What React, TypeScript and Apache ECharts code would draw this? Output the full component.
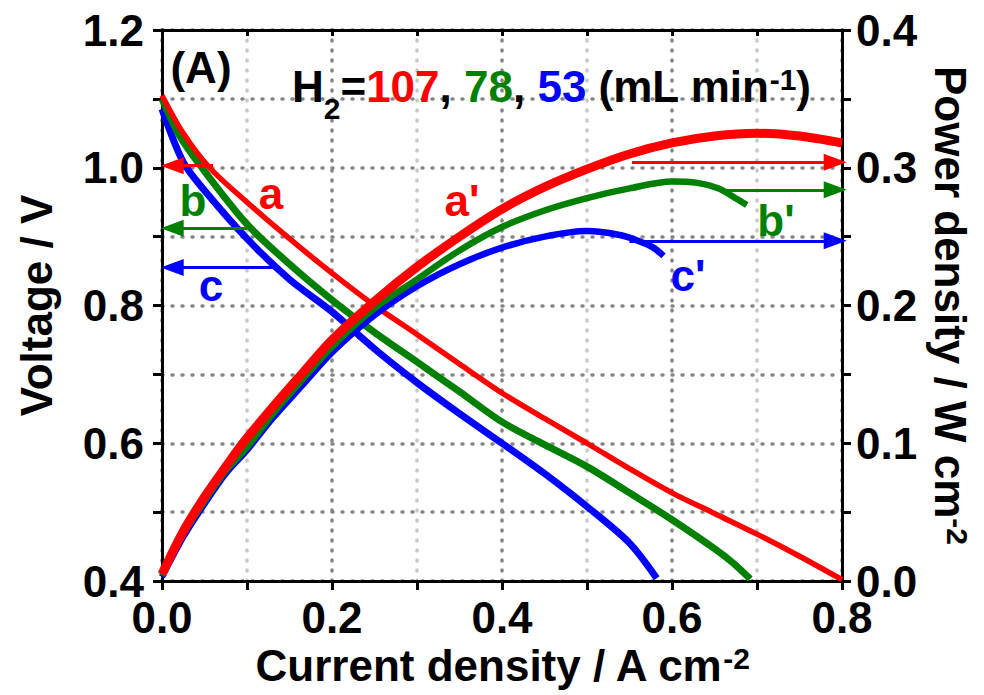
import React, { useEffect, useRef } from "react";
import * as echarts from "echarts";

// ---- data ----
const iRedV = [0, 0.025, 0.056, 0.1, 0.15, 0.2, 0.25, 0.3, 0.35, 0.4, 0.45, 0.5, 0.55, 0.6, 0.65, 0.7, 0.75, 0.8];
const vRed = [1.105, 1.05, 1.0, 0.95, 0.897, 0.847, 0.8, 0.758, 0.715, 0.673, 0.636, 0.6, 0.563, 0.528, 0.498, 0.468, 0.436, 0.402];

const iGreenV = [0, 0.02, 0.047, 0.1, 0.15, 0.2, 0.25, 0.3, 0.35, 0.4, 0.45, 0.5, 0.55, 0.6, 0.65, 0.672, 0.692];
const vGreen = [1.1, 1.048, 1.0, 0.918, 0.86, 0.808, 0.761, 0.718, 0.675, 0.631, 0.598, 0.566, 0.528, 0.489, 0.447, 0.426, 0.403];

const iBlueV = [0, 0.025, 0.05, 0.1, 0.15, 0.2, 0.25, 0.3, 0.35, 0.4, 0.45, 0.5, 0.55, 0.582];
const vBlue = [1.085, 1.008, 0.967, 0.897, 0.838, 0.791, 0.737, 0.688, 0.643, 0.6, 0.556, 0.508, 0.455, 0.404];

const iRedP = [0, 0.025, 0.05, 0.075, 0.095, 0.13, 0.164, 0.2, 0.25, 0.3, 0.35, 0.4, 0.45, 0.5, 0.55, 0.6, 0.65, 0.7, 0.75, 0.8];
const pRed = [0.005, 0.036, 0.061, 0.083, 0.1, 0.126, 0.15, 0.175, 0.203, 0.228, 0.25, 0.27, 0.286, 0.299, 0.31, 0.318, 0.323, 0.325, 0.323, 0.318];

const iGreenP = [0, 0.025, 0.05, 0.075, 0.1, 0.13, 0.165, 0.2, 0.25, 0.3, 0.35, 0.4, 0.45, 0.5, 0.55, 0.6, 0.63, 0.655, 0.672, 0.688];
const pGreen = [0.004, 0.034, 0.058, 0.08, 0.097, 0.121, 0.146, 0.17, 0.198, 0.219, 0.24, 0.257, 0.269, 0.278, 0.285, 0.29, 0.289, 0.285, 0.279, 0.273];

const iBlueP = [0, 0.025, 0.05, 0.075, 0.1, 0.13, 0.165, 0.2, 0.25, 0.3, 0.35, 0.4, 0.45, 0.5, 0.54, 0.56, 0.578, 0.59];
const pBlue = [0.003, 0.032, 0.056, 0.078, 0.095, 0.118, 0.142, 0.166, 0.193, 0.214, 0.23, 0.242, 0.25, 0.254, 0.251, 0.247, 0.242, 0.236];

// arrows: [x start, x end, y]
const arrowLeftRed = [0.06, 0.012, 1.003];
const arrowLeftGreen = [0.1, 0.012, 0.912];
const arrowLeftBlue = [0.135, 0.012, 0.855];
const arrowRightRed = [0.553, 0.792, 0.304];
const arrowRightGreen = [0.657, 0.792, 0.284];
const arrowRightBlue = [0.55, 0.792, 0.247];

const xTicks = [0, 0.2, 0.4, 0.6, 0.8];
const vTicks = [0.4, 0.6, 0.8, 1.0, 1.2];
const pTicks = [0, 0.1, 0.2, 0.3, 0.4];

const RED = "#ff0000";
const GREEN = "#008000";
const BLUE = "#0000ff";
const FONT = "Liberation Sans";

const pairs = (xs: number[], ys: number[]) => xs.map((x, k) => [x, ys[k]]);

const arrow = (a: number[], color: string) => ({
  silent: true,
  symbol: ["none", "triangle"],
  symbolSize: [17, 23],
  label: { show: false },
  emphasis: { disabled: true },
  lineStyle: { color, width: 3, type: "solid" },
  data: [[{ coord: [a[0], a[2]] }, { coord: [a[1], a[2]] }]],
});

const dotted = (color: string) => ({
  show: true,
  lineStyle: { color, width: 3.5, type: [1, 9], cap: "round" },
});

const tickLabel = {
  fontSize: 44,
  fontWeight: "bold",
  color: "#000",
  fontFamily: FONT,
};

const axisLine = { show: true, onZero: false, lineStyle: { color: "#000", width: 3 } };

const nameRich = {
  a: { fontSize: 44, fontWeight: "bold", fontFamily: FONT, color: "#000", lineHeight: 44, verticalAlign: "bottom" },
  s: { fontSize: 30, fontWeight: "bold", fontFamily: FONT, color: "#000", lineHeight: 44, verticalAlign: "top", padding: [0, 0, 14, 0] },
};

const labelText = (text: string, x: number, y: number, fill: string) => ({
  type: "text",
  x,
  y,
  z: 100,
  style: { text, fontSize: 44, fontWeight: "bold", fontFamily: FONT, fill, align: "center", verticalAlign: "middle" },
});

export default function App() {
  const ref = useRef<HTMLDivElement>(null);
  useEffect(() => {
    if (!ref.current) return;
    const chart = echarts.init(ref.current, null, { renderer: "svg" });
    const line = (name: string, data: number[][], color: string, width: number, yIdx: number, z: number, extra: any = {}) => ({
      name,
      type: "line",
      data,
      yAxisIndex: yIdx,
      showSymbol: false,
      smooth: 0.3,
      z,
      lineStyle: { color, width },
      itemStyle: { color },
      emphasis: { disabled: true },
      ...extra,
    });
    const main = (fill: string) => ({ fontSize: 44, fontWeight: "bold", fontFamily: FONT, fill, color: fill, lineHeight: 59, verticalAlign: "top" });
    const option: any = {
      animation: false,
      backgroundColor: "#fff",
      grid: { left: 162, right: 142, top: 30, bottom: 114, containLabel: false },
      xAxis: [
        {
          type: "value",
          min: 0,
          max: 0.8,
          interval: 0.2,
          position: "bottom",
          axisLine,
          axisTick: { show: true, inside: false, length: 9, lineStyle: { color: "#000", width: 3 } },
          minorTick: { show: true, splitNumber: 2, length: 9, lineStyle: { color: "#000", width: 3 } },
          axisLabel: { ...tickLabel, margin: 14, formatter: (v: number) => (xTicks.some((t) => Math.abs(t - v) < 1e-6) ? v.toFixed(1) : "") },
          splitLine: dotted("#858585"),
          minorSplitLine: dotted("#c8c8c8"),
          name: "{a|Current density / A cm}{s|-2}",
          nameLocation: "middle",
          nameGap: 50,
          nameTextStyle: { rich: nameRich },
        },
        {
          type: "value",
          min: 0,
          max: 0.8,
          interval: 0.2,
          position: "top",
          axisLine,
          axisTick: { show: true, inside: true, length: 6, lineStyle: { color: "#000", width: 3 } },
          minorTick: { show: true, splitNumber: 2, length: 6, lineStyle: { color: "#000", width: 3 } },
          axisLabel: { show: false },
          splitLine: { show: false },
        },
      ],
      yAxis: [
        {
          type: "value",
          min: 0.4,
          max: 1.2,
          interval: 0.2,
          position: "left",
          axisLine,
          axisTick: { show: true, inside: false, length: 9, lineStyle: { color: "#000", width: 3 } },
          minorTick: { show: true, splitNumber: 2, length: 9, lineStyle: { color: "#000", width: 3 } },
          axisLabel: { ...tickLabel, margin: 18, formatter: (v: number) => (vTicks.some((t) => Math.abs(t - v) < 1e-6) ? v.toFixed(1) : "") },
          splitLine: dotted("#858585"),
          minorSplitLine: dotted("#858585"),
          name: "Voltage / V",
          nameLocation: "middle",
          nameGap: 104,
          nameTextStyle: { fontSize: 44, fontWeight: "bold", fontFamily: FONT, color: "#000" },
        },
        {
          type: "value",
          min: 0,
          max: 0.4,
          interval: 0.1,
          position: "right",
          axisLine,
          axisTick: { show: true, inside: false, length: 9, lineStyle: { color: "#000", width: 3 } },
          minorTick: { show: true, splitNumber: 2, length: 9, lineStyle: { color: "#000", width: 3 } },
          axisLabel: { ...tickLabel, margin: 14, formatter: (v: number) => (pTicks.some((t) => Math.abs(t - v) < 1e-6) ? v.toFixed(1) : "") },
          splitLine: { show: false },
          name: "{a|Power density / W cm}{s|-2}",
          nameLocation: "middle",
          nameGap: 84,
          nameRotate: -90,
          nameTextStyle: { rich: nameRich },
        },
      ],
      series: [
        line("c", pairs(iBlueV, vBlue), BLUE, 7, 0, 2, { markLine: arrow(arrowLeftBlue, BLUE) }),
        line("b", pairs(iGreenV, vGreen), GREEN, 7, 0, 3, { markLine: arrow(arrowLeftGreen, GREEN) }),
        line("a", pairs(iRedV, vRed), RED, 5.5, 0, 4, { markLine: arrow(arrowLeftRed, RED) }),
        line("c'", pairs(iBlueP, pBlue), BLUE, 6.5, 1, 5, { markLine: arrow(arrowRightBlue, BLUE) }),
        line("b'", pairs(iGreenP, pGreen), GREEN, 6.5, 1, 6, { markLine: arrow(arrowRightGreen, GREEN) }),
        line("a'", pairs(iRedP, pRed), RED, 9, 1, 7, { markLine: arrow(arrowRightRed, RED) }),
      ],
      graphic: [
        labelText("(A)", 201, 67, "#000"),
        {
          type: "text",
          x: 292,
          y: 64,
          z: 100,
          style: {
            text: "{k|H}{sub|2}{k|=}{r|107}{k|, }{g|78}{k|, }{b|53}{k| (mL min}{sup|-1}{k|)}",
            align: "left",
            verticalAlign: "top",
            rich: {
              k: main("#000"),
              r: main(RED),
              g: main(GREEN),
              b: main(BLUE),
              sub: { fontSize: 30, fontWeight: "bold", fontFamily: FONT, fill: "#000", color: "#000", lineHeight: 30, verticalAlign: "bottom" },
              sup: { fontSize: 30, fontWeight: "bold", fontFamily: FONT, fill: "#000", color: "#000", lineHeight: 30, verticalAlign: "top" },
            },
          },
        },
        labelText("a", 271, 193, RED),
        labelText("b", 193, 200, GREEN),
        labelText("c", 211, 285, BLUE),
        labelText("a'", 462, 200, RED),
        labelText("b'", 776, 220, GREEN),
        labelText("c'", 688, 275, BLUE),
      ],
    };
    chart.setOption(option);
    return () => chart.dispose();
  }, []);
  return <div ref={ref} style={{ position: "fixed", left: 0, top: 0, width: 984, height: 695, background: "#fff" }} />;
}
